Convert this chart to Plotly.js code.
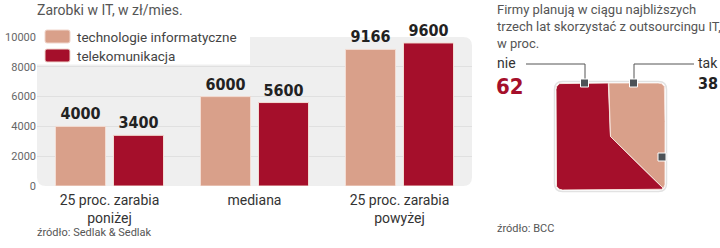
<!DOCTYPE html>
<html><head><meta charset="utf-8">
<script src="https://cdn.plot.ly/plotly-3.0.1.min.js"></script>
<style>html,body{margin:0;padding:0;background:#fff}</style>
</head><body><div id="chart" style="width:720px;height:248px"></div>
<script>
// ---- data ----
const categories = ['25 proc. zarabia<br>poniżej', 'mediana', '25 proc. zarabia<br>powyżej'];
const seriesNames = ['technologie informatyczne', 'telekomunikacja'];
const itValues = [4000, 6000, 9166];
const telecomValues = [3400, 5600, 9600];
const yTicks = [0, 2000, 4000, 6000, 8000, 10000];
const pieLabels = ['nie', 'tak'];
const pieValues = [62, 38];

// ---- style ----
const TAN = '#d9a08a', RED = '#a50f2b';
const W = 720, H = 248;
const px = x => x / W, py = y => 1 - y / H;
const FONT = 'Roboto, sans-serif';
const NUMFONT = '"DejaVu Sans Condensed", "DejaVu Sans", sans-serif';

// ---- square pie geometry (rounded square, center 0.5,0.5) ----
function boundaryPoint(phiDeg, r) {
  const a = phiDeg * Math.PI / 180;
  const dx = Math.sin(a), dy = Math.cos(a);
  const t = 0.5 / Math.max(Math.abs(dx), Math.abs(dy));
  let x = 0.5 + t * dx, y = 0.5 + t * dy;
  const lim = 0.5 - r;
  if (Math.abs(x - 0.5) > lim && Math.abs(y - 0.5) > lim) {
    const cx = 0.5 + Math.sign(dx) * lim, cy = 0.5 + Math.sign(dy) * lim;
    const ox = 0.5 - cx, oy = 0.5 - cy;
    const b = ox * dx + oy * dy, c = ox * ox + oy * oy - r * r;
    const tt = -b + Math.sqrt(b * b - c);
    x = 0.5 + tt * dx; y = 0.5 + tt * dy;
  }
  return [x, y];
}
const pieRotation = -1.8, cornerR = 0.06;
const total = pieValues.reduce((s, v) => s + v, 0);
const pieColors = [RED, TAN];
const pieTraces = [];
let start = pieRotation;
pieValues.forEach((v, i) => {
  const span = v / total * 360;
  const xs = [0.5], ys = [0.5];
  const steps = Math.ceil(span / 0.5);
  for (let k = 0; k <= steps; k++) {
    const phi = start - span * k / steps; // counterclockwise
    const p = boundaryPoint(phi, cornerR);
    xs.push(p[0]); ys.push(p[1]);
  }
  xs.push(0.5); ys.push(0.5);
  pieTraces.push({
    type: 'scatter', mode: 'lines', x: xs, y: ys, fill: 'toself',
    fillcolor: pieColors[i], line: {color: '#f7e3dc', width: 1},
    xaxis: 'x2', yaxis: 'y2', hoverinfo: 'text', text: pieLabels[i] + ': ' + v,
    showlegend: false
  });
  start -= span;
});

// ---- bars ----
const barCommon = {
  type: 'bar', x: categories, textposition: 'outside', cliponaxis: false,
  textfont: {family: NUMFONT, size: 16, color: '#222', weight: 'bold'},
  showlegend: false
};
const traces = [
  Object.assign({}, barCommon, {name: seriesNames[0], y: itValues, text: itValues.map(String),
    marker: {color: TAN, line: {color: '#f3dcd3', width: 1}}}),
  Object.assign({}, barCommon, {name: seriesNames[1], y: telecomValues, text: telecomValues.map(String),
    marker: {color: RED, line: {color: '#f3dcd3', width: 1}}}),
  ...pieTraces
];

// rounded rect path in paper coords
function roundRect(x0, y0, x1, y1, r) {
  const X0 = px(x0), X1 = px(x1), Y0 = py(y0), Y1 = py(y1);
  const rx = r / W, ry = r / H;
  return `M${X0 + rx},${Y0} L${X1 - rx},${Y0} Q${X1},${Y0} ${X1},${Y0 - ry} L${X1},${Y1 + ry} Q${X1},${Y1} ${X1 - rx},${Y1} L${X0 + rx},${Y1} Q${X0},${Y1} ${X0},${Y1 + ry} L${X0},${Y0 - ry} Q${X0},${Y0} ${X0 + rx},${Y0} Z`;
}

const shapes = [
  {type: 'path', xref: 'paper', yref: 'paper', path: roundRect(37, 37, 472, 186, 9), fillcolor: '#efefef', line: {width: 0}, layer: 'below'},
  // legend background & swatches
  {type: 'rect', xref: 'paper', yref: 'paper', x0: px(37), x1: px(250), y0: py(64.5), y1: py(25), fillcolor: '#ffffff', line: {width: 0}, layer: 'above'},
  {type: 'path', xref: 'paper', yref: 'paper', path: roundRect(45, 30, 70, 43, 2), fillcolor: TAN, line: {color: '#f0d6cc', width: 1}, layer: 'above'},
  {type: 'path', xref: 'paper', yref: 'paper', path: roundRect(45, 49, 70, 62, 2), fillcolor: RED, line: {color: '#f0d6cc', width: 1}, layer: 'above'},
  // pie shadow outline
  {type: 'path', xref: 'paper', yref: 'paper', path: roundRect(554.5, 81.5, 666.5, 191.5, 8), fillcolor: 'rgba(0,0,0,0)', line: {color: '#e2e2e2', width: 1.5}, layer: 'below'},
  // connectors
  {type: 'path', xref: 'paper', yref: 'paper', path: `M${px(526)},${py(64)} L${px(585)},${py(64)} L${px(585)},${py(80)}`, line: {color: '#555', width: 1}},
  {type: 'path', xref: 'paper', yref: 'paper', path: `M${px(694)},${py(64)} L${px(634)},${py(64)} L${px(634)},${py(80)}`, line: {color: '#555', width: 1}},
  {type: 'rect', xref: 'paper', yref: 'paper', x0: px(580.5), x1: px(588.5), y0: py(87), y1: py(79), fillcolor: '#4d5257', line: {color: '#fff', width: 1}},
  {type: 'rect', xref: 'paper', yref: 'paper', x0: px(629.5), x1: px(637.5), y0: py(87), y1: py(79), fillcolor: '#4d5257', line: {color: '#fff', width: 1}},
  {type: 'rect', xref: 'paper', yref: 'paper', x0: px(658), x1: px(666), y0: py(161), y1: py(153), fillcolor: '#4d5257', line: {color: '#fff', width: 1}}
];

const ann = (text, x, y, opts) => Object.assign({
  text, xref: 'paper', yref: 'paper', x: px(x), y: py(y), xanchor: 'left', yanchor: 'middle',
  showarrow: false, align: 'left', borderpad: 0, font: {family: FONT, size: 13, color: '#555'}
}, opts || {});

const annotations = [
  ann('Zarobki w IT, w zł/mies.', 36, 10, {font: {family: FONT, size: 14, color: '#555'}}),
  ann(seriesNames[0], 76, 37, {font: {family: FONT, size: 13.5, color: '#444'}}),
  ann(seriesNames[1], 76, 56, {font: {family: FONT, size: 13.5, color: '#444'}}),
  ann('źródło: Sedlak &amp; Sedlak', 36, 232, {font: {family: FONT, size: 11, color: '#555'}}),
  ann('Firmy planują w ciągu najbliższych<br>trzech lat skorzystać z outsourcingu IT,<br>w proc.', 496, 1, {yanchor: 'top', font: {family: FONT, size: 13, color: '#555'}}),
  ann(pieLabels[0], 496, 63, {font: {family: FONT, size: 14, color: '#333'}}),
  ann(String(pieValues[0]), 495, 86, {font: {family: NUMFONT, size: 22, color: RED, weight: 'bold'}}),
  ann(pieLabels[1], 719, 63, {xanchor: 'right', font: {family: FONT, size: 14, color: '#333'}}),
  ann(String(pieValues[1]), 719, 84, {xanchor: 'right', font: {family: NUMFONT, size: 16, color: '#222', weight: 'bold'}}),
  ann('źródło: BCC', 496, 228, {font: {family: FONT, size: 11, color: '#555'}})
];

const layout = {
  width: W, height: H, margin: {l: 0, r: 0, t: 0, b: 0},
  paper_bgcolor: '#fff', plot_bgcolor: 'rgba(0,0,0,0)',
  font: {family: FONT, color: '#444'},
  barmode: 'group', bargap: 0.2, bargroupgap: 0.138,
  showlegend: false,
  xaxis: {domain: [px(37), px(472)], range: [-0.5, 2.5], type: 'category', showgrid: false, zeroline: false,
    showline: false, ticks: '', ticklabelstandoff: 4, tickfont: {family: FONT, size: 14, color: '#333'}, fixedrange: true},
  yaxis: {domain: [py(186), py(37)], range: [0, 10000], tickvals: yTicks, ticktext: yTicks.map(String),
    showgrid: true, gridcolor: '#e0e0e0', gridwidth: 1, zeroline: false, showline: false, ticks: '',
    tickfont: {family: FONT, size: 11, color: '#666'}, fixedrange: true},
  xaxis2: {domain: [px(556), px(665)], range: [0, 1], visible: false, fixedrange: true, anchor: 'y2'},
  yaxis2: {domain: [py(190), py(83)], range: [0, 1], visible: false, fixedrange: true, anchor: 'x2'},
  shapes, annotations
};

Plotly.newPlot('chart', traces, layout, {displayModeBar: false, staticPlot: true});
</script>
</body></html>
